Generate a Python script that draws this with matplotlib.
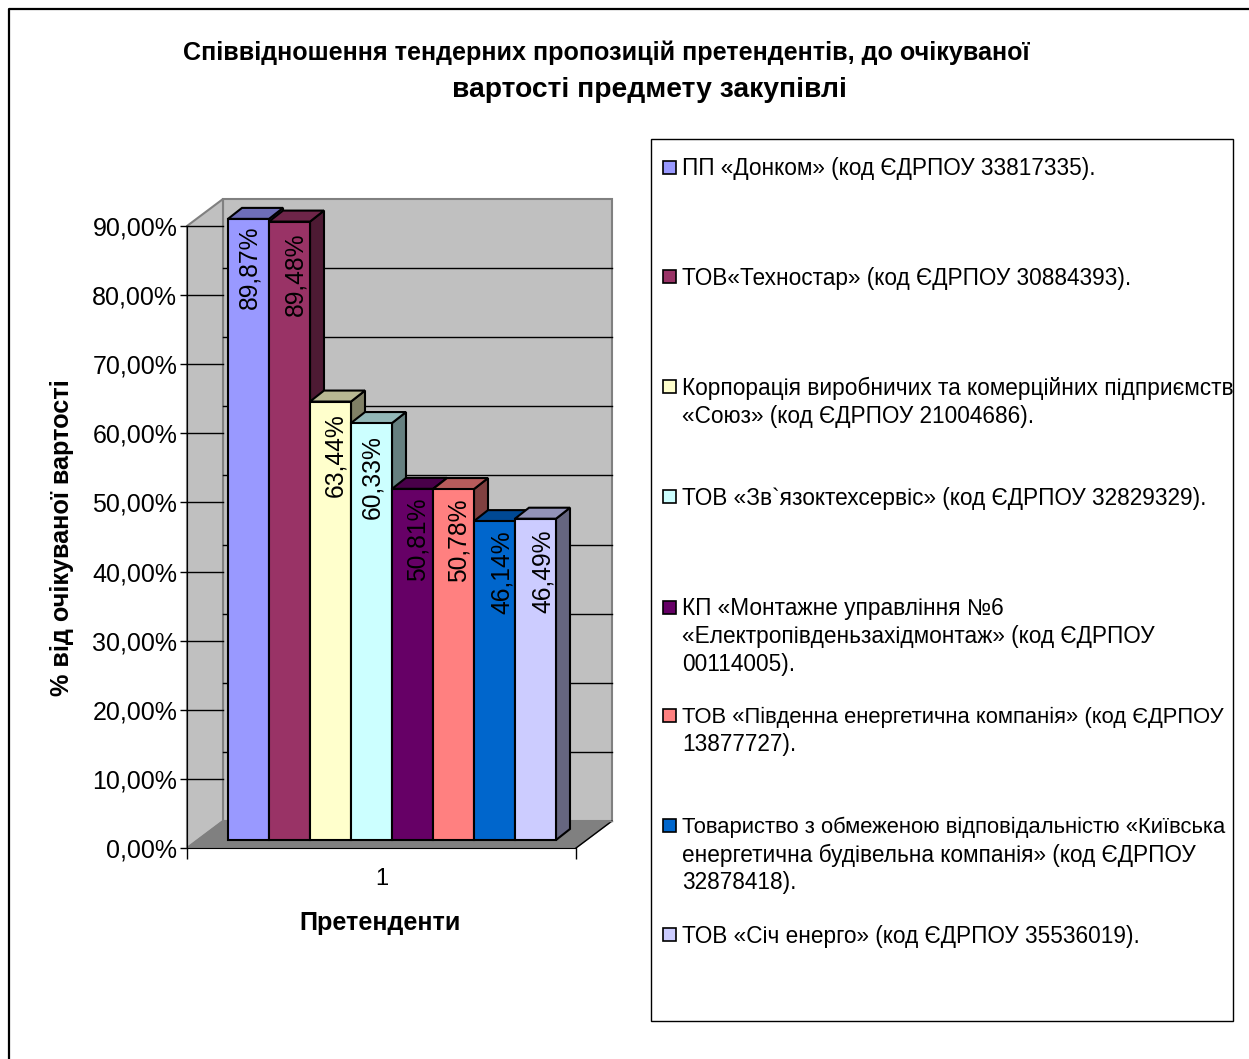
import numpy as np
import matplotlib
matplotlib.use('Agg')
import matplotlib.pyplot as plt
from matplotlib.patches import Rectangle

W, H = 1249, 1059

title_lines = ['Співвідношення тендерних пропозицій претендентів, до очікуваної',
               'вартості предмету закупівлі']
ylabel = '% від очікуваної вартості'
xlabel = 'Претенденти'
xcat = '1'

values = [89.87, 89.48, 63.44, 60.33, 50.81, 50.78, 46.14, 46.49]
labels = ['89,87%', '89,48%', '63,44%', '60,33%', '50,81%', '50,78%', '46,14%', '46,49%']
colors = ['#9999FF', '#993366', '#FFFFCC', '#CCFFFF', '#660066', '#FF8080', '#0066CC', '#CCCCFF']
yticks = [0, 10, 20, 30, 40, 50, 60, 70, 80, 90]
yticklabels = ['0,00%', '10,00%', '20,00%', '30,00%', '40,00%', '50,00%', '60,00%', '70,00%', '80,00%', '90,00%']

legend_text = [
    ['ПП «Донком» (код ЄДРПОУ 33817335).'],
    ['ТОВ«Техностар» (код ЄДРПОУ 30884393).'],
    ['Корпорація виробничих та комерційних підприємств', '«Союз» (код ЄДРПОУ 21004686).'],
    ['ТОВ «Зв`язоктехсервіс» (код ЄДРПОУ 32829329).'],
    ['КП «Монтажне управління №6', '«Електропівденьзахідмонтаж» (код ЄДРПОУ', '00114005).'],
    ['ТОВ «Південна енергетична компанія» (код ЄДРПОУ', '13877727).'],
    ['Товариство з обмеженою відповідальністю «Київська', 'енергетична будівельна компанія» (код ЄДРПОУ', '32878418).'],
    ['ТОВ «Січ енерго» (код ЄДРПОУ 35536019).'],
]
legend_y = [168, 277, 387, 497, 608, 716, 826, 935]
# first lines of these two entries are squeezed a bit in the original
squeezed = [5, 6]

plt.rcParams['font.family'] = ['Liberation Sans', 'DejaVu Sans']


def darker(c, f):
    rgb = np.array(matplotlib.colors.to_rgb(c))
    return tuple(rgb * f)


fig = plt.figure(figsize=(W / 100, H / 100), dpi=100)

# pixel overlay for frame, title and legend
bg = fig.add_axes([0, 0, 1, 1])
bg.set_xlim(0, W)
bg.set_ylim(H, 0)
bg.axis('off')
bg.plot([9, 9, W], [H, 9, 9], color='black', lw=1.6)
bg.text(606, 53, title_lines[0], ha='center', va='center', fontsize=18.13, fontweight='bold')
bg.text(649, 90, title_lines[1], ha='center', va='center', fontsize=20.3, fontweight='bold')
bg.add_patch(Rectangle((651, 139), 582, 882, fc='white', ec='black', lw=1))
for i, lines in enumerate(legend_text):
    bg.add_patch(Rectangle((663, legend_y[i] - 7), 13, 13, fc=colors[i], ec='black', lw=1.2))
    for j, line in enumerate(lines):
        size = 15.85 if (i in squeezed and j == 0) else 16.3
        bg.text(682, legend_y[i] + 1 + j * 28, line, ha='left', va='center', fontsize=size)

# main axes: x in pixels along the front edge, y in percent
x0, x1, y0, y90 = 187, 576, 848, 226
ax = fig.add_axes([x0 / W, 1 - y0 / H, (x1 - x0) / W, (y0 - y90) / H])
k = (y0 - y90) / 90
ax.set_xlim(0, x1 - x0)
ax.set_ylim(0, 90)
ax.patch.set_alpha(0)

ddx, ddy = 36, 27 / k          # depth of the box
bdx, bdy = 14, 11 / k          # depth of the bars
base = 8 / k                   # bars stand this far behind the front edge
bw = 41
bx0 = 41
w = x1 - x0

# back wall, side wall, floor
ax.fill([ddx, w + ddx, w + ddx, ddx], [ddy, ddy, 90 + ddy, 90 + ddy], fc='#C0C0C0', ec='#808080', lw=1.5, clip_on=False, zorder=1)
ax.fill([0, ddx, ddx, 0], [0, ddy, 90 + ddy, 90], fc='#C0C0C0', ec='#808080', lw=1.5, clip_on=False, zorder=1)
ax.fill([0, w, w + ddx, ddx], [0, 0, ddy, ddy], fc='#808080', ec='#808080', lw=1, clip_on=False, zorder=2)
ax.plot([w, w + ddx], [0, ddy], color='black', lw=1, clip_on=False, zorder=2)
for t in yticks:
    if t > 0:
        # side wall lines stay level at the tick height, back wall lines sit one depth higher
        ax.plot([0, ddx], [t, t], color='black', lw=1, clip_on=False, zorder=2)
        if t < 90:
            ax.plot([ddx, w + ddx], [t + ddy, t + ddy], color='black', lw=1, clip_on=False, zorder=2)
ax.plot([ddx, w + ddx], [ddy, ddy], color='#808080', lw=1, clip_on=False, zorder=2)

# bars, drawn left to right with side and top faces
for i, v in enumerate(values):
    left = bx0 + i * bw
    top = base + v
    ax.fill([left + bw, left + bw + bdx, left + bw + bdx, left + bw],
            [base, base + bdy, top + bdy, top], fc=darker(colors[i], 0.5), ec='black', lw=1.5, clip_on=False, zorder=3 + i)
    ax.fill([left, left + bdx, left + bw + bdx, left + bw],
            [top, top + bdy, top + bdy, top], fc=darker(colors[i], 0.72), ec='black', lw=1.5, clip_on=False, zorder=3 + i)
    ax.bar(left, v, width=bw, bottom=base, align='edge', color=colors[i], ec='black', lw=1.5, clip_on=False, zorder=3 + i)

# data labels
label_dx = [1, 6, 5, 1, 5, 5, 7, 7]
label_dy = [7, 11, 12, 12, 9, 9, 9, 11]
for i, v in enumerate(values):
    cx = bx0 + (i + 0.5) * bw + label_dx[i]
    ax.text(cx, base + v - label_dy[i] / k, labels[i], rotation=90, ha='center', va='top',
            fontsize=17.7, color='black', zorder=20, clip_on=False)

for s in ['top', 'right']:
    ax.spines[s].set_visible(False)
ax.set_yticks(yticks)
ax.set_yticklabels(yticklabels, fontsize=18)
ax.set_xticks([0, w])
ax.set_xticklabels(['', ''])
ax.tick_params(axis='y', length=5, width=1, pad=2)
ax.tick_params(axis='x', length=8, width=1)
for s in ['left', 'bottom']:
    ax.spines[s].set_zorder(2.5)

bg.text(382, 879, xcat, ha='center', va='center', fontsize=17)
bg.text(380, 923, xlabel, ha='center', va='center', fontsize=18.1, fontweight='bold')
bg.text(62, 538, ylabel, ha='center', va='center', rotation=90, fontsize=18.2, fontweight='bold')

fig.savefig('out.png', dpi=100)
